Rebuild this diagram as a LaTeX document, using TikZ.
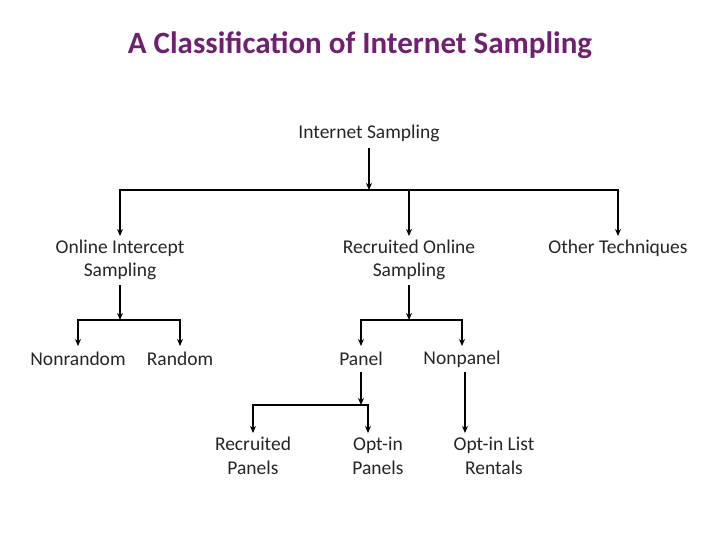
\documentclass[tikz,border=0pt]{standalone}
\usepackage{fontspec}
\setmainfont{Carlito}
\usetikzlibrary{arrows.meta}
\begin{document}
\begin{tikzpicture}[x=1pt,y=-1pt,
  lbl/.style={font=\fontsize{19.5}{23.5}\selectfont,align=center,text=black!85},
  ln/.style={line width=2pt},
  ar/.style={line width=1.6pt,-{Stealth[length=7pt,width=6pt]}}]
\useasboundingbox (0,0) rectangle (720,540);
\node[font=\bfseries\fontsize{31}{36}\selectfont,text={rgb,255:red,112;green,32;blue,112}] (title) at (360,45) {A Classification of Internet Sampling};
\node[lbl] (is) at (369,133) {Internet Sampling};
\node[lbl] (ois) at (120,260) {Online Intercept\\Sampling};
\node[lbl] (ros) at (409,260) {Recruited Online\\Sampling};
\node[lbl] (ot) at (618,248) {Other Techniques};
\node[lbl] (nr) at (78,359) {Nonrandom};
\node[lbl] (r) at (180,359) {Random};
\node[lbl] (p) at (361,359) {Panel};
\node[lbl] (np) at (462,359) {Nonpanel};
\node[lbl] (rp) at (253,456) {Recruited\\Panels};
\node[lbl] (op) at (378,456) {Opt-in\\Panels};
\node[lbl] (ol) at (494,456) {Opt-in List\\Rentals};
\coordinate (h1) at (369,190);
\coordinate (h2) at (120,320);
\coordinate (h3) at (409,320);
\coordinate (h4) at (361,405);
\draw[ar] (369,148) -- (h1);
\draw[ln] (120,190) -- (618,190);
\draw[ar] (120,189) -- (120,236);
\draw[ar] (409,189) -- (409,236);
\draw[ar] (618,189) -- (618,236);
\draw[ar] (120,285) -- (h2);
\draw[ln] (78,320) -- (180,320);
\draw[ar] (78,319) -- (78,346);
\draw[ar] (180,319) -- (180,346);
\draw[ar] (409,285) -- (h3);
\draw[ln] (361,320) -- (462,320);
\draw[ar] (361,319) -- (361,346);
\draw[ar] (462,319) -- (462,346);
\draw[ar] (361,372) -- (h4);
\draw[ln] (253,405) -- (368,405);
\draw[ar] (253,404) -- (253,433);
\draw[ar] (368,404) -- (368,433);
\draw[ar] (465,372) -- (465,433);
\end{tikzpicture}
\end{document}
